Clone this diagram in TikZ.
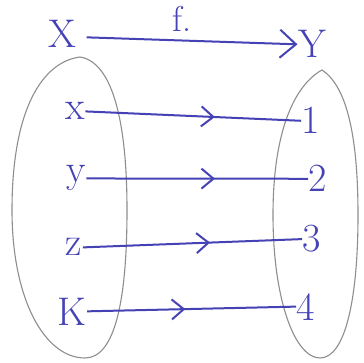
\documentclass[tikz,border=0pt]{standalone}
\usetikzlibrary{arrows.meta,decorations.markings}
\definecolor{ink}{HTML}{4542B5}
\definecolor{pencil}{HTML}{8E8E8E}
\begin{document}
\begin{tikzpicture}[x=1pt,y=-1pt,
  lbl/.style={text=ink,font=\fontsize{40}{44}\selectfont,inner sep=0.5pt,anchor=base},
  setshape/.style={draw=pencil,line width=1.1pt},
  mapline/.style={draw=ink,line width=2pt,postaction={decorate},
    decoration={markings,mark=at position #1 with {\arrow{Straight Barb[length=12pt,width=20pt,line width=2pt]}}}},
  toparrow/.style={draw=ink,line width=2pt,-{Straight Barb[length=16pt,width=28pt,line width=2pt]}}]
\fill[white] (0,0) rectangle (364,363);
\useasboundingbox (0,0) rectangle (364,363);
% sets
\draw[setshape] (80,57) .. controls (42,62) and (12,110) .. (12,210)
  .. controls (12,300) and (45,358) .. (85,358)
  .. controls (115,358) and (127,300) .. (127,210)
  .. controls (127,120) and (112,62) .. (80,57) -- cycle;
\draw[setshape] (322,70) .. controls (295,85) and (273,130) .. (273,215)
  .. controls (273,300) and (295,358) .. (320,358)
  .. controls (345,358) and (358,300) .. (358,215)
  .. controls (358,130) and (345,85) .. (322,70) -- cycle;
% top
\node[lbl] (X) at (62,48) {X};
\node[lbl] (Y) at (312,58) {Y};
\node[lbl,font=\fontsize{36}{40}\selectfont] (f) at (182,32) {f.};
\draw[toparrow] (X.east) ++(10,3) coordinate (xs) -- (Y.west);
% left elements
\node[lbl] (a) at (75,120) {x};
\node[lbl] (b) at (76,183) {y};
\node[lbl] (c) at (74,256) {z};
\node[lbl] (d) at (72,325) {K};
% right elements
\node[lbl] (n1) at (311,134) {1};
\node[lbl] (n2) at (318,192) {2};
\node[lbl] (n3) at (312,252) {3};
\node[lbl] (n4) at (306,320) {4};
% mappings
\draw[mapline=0.6] (a.east) -- (n1.west);
\draw[mapline=0.58] (b.east) -- (n2.west);
\draw[mapline=0.58] (c.east) -- (n3.west);
\draw[mapline=0.47] (d.east) -- (n4.west);
\end{tikzpicture}
\end{document}
